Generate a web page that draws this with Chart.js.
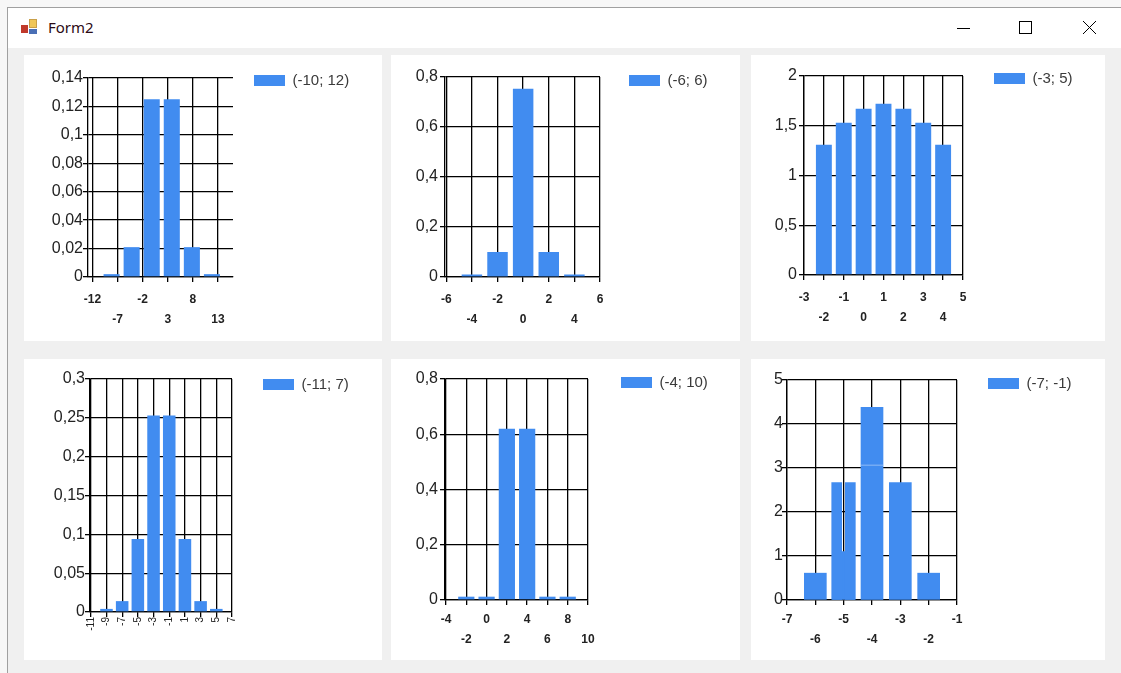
<!DOCTYPE html>
<html lang="es">
<head>
<meta charset="utf-8">
<title>Form2</title>
<script src="https://cdn.jsdelivr.net/npm/chart.js@4.4.1/dist/chart.umd.min.js"></script>
<style>
    html, body { margin: 0; padding: 0; }
    body { width: 1121px; height: 673px; overflow: hidden; position: relative; background: #f7f7f7; }
    #marco { position: absolute; left: 7px; top: 7px; width: 1114px; height: 666px;
             border-top: 1px solid #a0a0a0; border-left: 1px solid #a0a0a0; background: #f0f0f0; }
    #barra { position: absolute; left: 0; top: 0; width: 100%; height: 40px; background: #fff; }
    #titulo { position: absolute; left: 40px; top: 9px; font: 15px "Noto Sans", "DejaVu Sans", sans-serif; color: #2b0a14; }
    .ico { position: absolute; }
    #botones { position: absolute; left: 0; top: 0; }
    .panel { position: absolute; background: #fff; }
    .panel canvas { display: block; }
</style>
</head>
<body>
<div id="marco">
    <div id="barra">
        <div class="ico" style="left:13px; top:17px; width:7px; height:8px; background:#c0392b;"></div>
        <div class="ico" style="left:21px; top:11px; width:8px; height:9px; background:#f0c75a; border:1px solid #c9a04a; box-sizing:border-box;"></div>
        <div class="ico" style="left:21px; top:21px; width:8px; height:5px; background:#4a6fb5;"></div>
        <div id="titulo">Form2</div>
    </div>
</div>
<svg id="botones" width="1121" height="48">
    <line x1="957" y1="28.5" x2="970" y2="28.5" stroke="#000" stroke-width="1"/>
    <rect x="1019.5" y="21.5" width="12" height="12" fill="none" stroke="#000" stroke-width="1"/>
    <line x1="1083" y1="21" x2="1096" y2="34" stroke="#000" stroke-width="1"/>
    <line x1="1096" y1="21" x2="1083" y2="34" stroke="#000" stroke-width="1"/>
</svg>

<div class="panel" id="panel1" style="left:24px; top:55px;"><canvas width="358" height="286"></canvas></div>
<div class="panel" id="panel2" style="left:391px; top:55px;"><canvas width="349" height="286"></canvas></div>
<div class="panel" id="panel3" style="left:751px; top:55px;"><canvas width="354" height="286"></canvas></div>
<div class="panel" id="panel4" style="left:24px; top:359px;"><canvas width="358" height="301"></canvas></div>
<div class="panel" id="panel5" style="left:391px; top:359px;"><canvas width="349" height="301"></canvas></div>
<div class="panel" id="panel6" style="left:751px; top:359px;"><canvas width="354" height="301"></canvas></div>

<script>
// Histogramas por intervalo

// Gráfico 1: (-10; 12)
const etiqueta1 = '(-10; 12)';
const x1 = [-8.2, -4.2, -0.2, 3.8, 7.8, 11.8];
const y1 = [0.002, 0.021, 0.125, 0.125, 0.021, 0.002];
const ticksX1 = [-12, -7, -2, 3, 8, 13];
const rangoX1 = [-12.9, 16];
const ticksY1 = [0, 0.02, 0.04, 0.06, 0.08, 0.1, 0.12, 0.14];

// Gráfico 2: (-6; 6)
const etiqueta2 = '(-6; 6)';
const x2 = [-4, -2, 0, 2, 4];
const y2 = [0.01, 0.1, 0.753, 0.1, 0.01];
const ticksX2 = [-6, -4, -2, 0, 2, 4, 6];
const rangoX2 = [-6.1, 6];
const ticksY2 = [0, 0.2, 0.4, 0.6, 0.8];

// Gráfico 3: (-3; 5)
const etiqueta3 = '(-3; 5)';
const x3 = [-2, -1, 0, 1, 2, 3, 4];
const y3 = [1.31, 1.53, 1.67, 1.72, 1.67, 1.53, 1.31];
const ticksX3 = [-3, -2, -1, 0, 1, 2, 3, 4, 5];
const rangoX3 = [-3, 5];
const ticksY3 = [0, 0.5, 1, 1.5, 2];

// Gráfico 4: (-11; 7)
const etiqueta4 = '(-11; 7)';
const x4 = [-9, -7, -5, -3, -1, 1, 3, 5];
const y4 = [0.004, 0.014, 0.094, 0.253, 0.253, 0.094, 0.014, 0.004];
const ticksX4 = [-11, -9, -7, -5, -3, -1, 1, 3, 5, 7];
const rangoX4 = [-11.1, 7];
const ticksY4 = [0, 0.05, 0.1, 0.15, 0.2, 0.25, 0.3];

// Gráfico 5: (-4; 10)
const etiqueta5 = '(-4; 10)';
const x5 = [-2, 0, 2, 4, 6, 8];
const y5 = [0.012, 0.012, 0.62, 0.62, 0.012, 0.012];
const ticksX5 = [-4, -2, 0, 2, 4, 6, 8, 10];
const rangoX5 = [-4.1, 10];
const ticksY5 = [0, 0.2, 0.4, 0.6, 0.8];

// Gráfico 6: (-7; -1) - barras superpuestas
const etiqueta6 = '(-7; -1)';
const x6 = [-6, -5, -4, -3, -2];
const y6 = [0.61, 1.1, 4.38, 2.67, 0.61];
const x6b = [-5.245, -4.765];
const y6b = [2.67, 2.67];
const x6c = [-4];
const y6c = [3.07];
const ticksX6 = [-7, -6, -5, -4, -3, -2, -1];
const rangoX6 = [-7, -1];
const ticksY6 = [0, 1, 2, 3, 4, 5];

const AZUL = 'rgb(65, 140, 240)';
const FAMILIA = '"Liberation Sans", Arial, sans-serif';

Chart.defaults.font.family = FAMILIA;
Chart.defaults.animation = false;

function puntos(xs, ys) {
    return xs.map((x, i) => ({ x: x, y: ys[i] }));
}

// Etiquetas del eje X en dos filas alternadas
function escalonar(valor, indice) {
    const txt = String(valor);
    return indice % 2 === 0 ? [txt, ''] : ['', txt];
}

function conComa(valor) {
    return String(valor).replace('.', ',');
}

// Coloca la leyenda a la derecha del área del gráfico, arriba
const leyendaFija = {
    id: 'leyendaFija',
    afterLayout(chart, args, opts) {
        const lg = chart.legend;
        if (!lg) return;
        lg.left = opts.x;
        lg.top = opts.y;
        lg.width = 130;
        lg.height = 30;
        lg.right = lg.left + lg.width;
        lg.bottom = lg.top + lg.height;
    }
};

function crearGrafico(idPanel, cfg) {
    const lienzo = document.querySelector('#' + idPanel + ' canvas');
    const ancho = lienzo.width;
    const alto = lienzo.height;
    const m = cfg.area;
    const rejilla = { color: '#000', lineWidth: 1.3, offset: false, drawTicks: true, tickLength: 5, tickColor: '#000' };
    const borde = { display: true, color: '#000', width: 1.3 };

    return new Chart(lienzo, {
        type: 'bar',
        data: { datasets: cfg.series },
        options: {
            responsive: false,
            devicePixelRatio: 1,
            animation: false,
            events: [],
            layout: { padding: { left: 0, top: m.arr, right: ancho - m.der - 1, bottom: 0 } },
            datasets: { bar: { grouped: false, categoryPercentage: 1, barPercentage: 0.8 } },
            scales: {
                x: {
                    type: 'linear',
                    offset: false,
                    min: cfg.rangoX[0],
                    max: cfg.rangoX[1],
                    afterBuildTicks: eje => { eje.ticks = cfg.ticksX.map(v => ({ value: v })); },
                    afterFit: eje => { eje.height = alto - m.aba; },
                    grid: rejilla,
                    border: borde,
                    ticks: {
                        autoSkip: false,
                        minRotation: cfg.girarX ? 90 : 0,
                        maxRotation: cfg.girarX ? 90 : 0,
                        padding: cfg.sepX,
                        color: '#222',
                        font: cfg.fuenteX,
                        callback: cfg.girarX ? (v => String(v)) : ((v, i) => escalonar(v, i))
                    }
                },
                y: {
                    min: 0,
                    max: cfg.ticksY[cfg.ticksY.length - 1],
                    afterBuildTicks: eje => { eje.ticks = cfg.ticksY.map(v => ({ value: v })); },
                    afterFit: eje => { eje.width = m.izq; },
                    grid: rejilla,
                    border: borde,
                    ticks: {
                        padding: cfg.sepY,
                        color: '#222',
                        font: { size: 16 },
                        callback: v => conComa(v)
                    }
                }
            },
            plugins: {
                legend: {
                    position: 'right',
                    align: 'start',
                    maxWidth: 1,
                    labels: {
                        boxWidth: 31,
                        boxHeight: 11,
                        padding: 0,
                        color: '#3a3a3a',
                        font: { size: 15 },
                        filter: item => item.text !== ''
                    }
                },
                tooltip: { enabled: false },
                leyendaFija: { x: cfg.leyenda[0], y: cfg.leyenda[1] }
            }
        },
        plugins: [leyendaFija]
    });
}

const fuenteNormal = { size: 12, weight: 'bold', lineHeight: 1.7 };

crearGrafico('panel1', {
    series: [{ label: etiqueta1, data: puntos(x1, y1), backgroundColor: AZUL, borderWidth: 0 }],
    ticksX: ticksX1, rangoX: rangoX1, ticksY: ticksY1,
    area: { izq: 64, der: 209, arr: 23, aba: 222 },
    leyenda: [230, 18], sepX: 7, sepY: 0, fuenteX: fuenteNormal
});

crearGrafico('panel2', {
    series: [{ label: etiqueta2, data: puntos(x2, y2), backgroundColor: AZUL, borderWidth: 0 }],
    ticksX: ticksX2, rangoX: rangoX2, ticksY: ticksY2,
    area: { izq: 54, der: 209, arr: 22, aba: 222 },
    leyenda: [238, 18], sepX: 7, sepY: 2, fuenteX: fuenteNormal
});

crearGrafico('panel3', {
    series: [{ label: etiqueta3, data: puntos(x3, y3), backgroundColor: AZUL, borderWidth: 0 }],
    ticksX: ticksX3, rangoX: rangoX3, ticksY: ticksY3,
    area: { izq: 53, der: 212, arr: 21, aba: 220 },
    leyenda: [243, 16], sepX: 7, sepY: 2, fuenteX: fuenteNormal
});

crearGrafico('panel4', {
    series: [{ label: etiqueta4, data: puntos(x4, y4), backgroundColor: AZUL, borderWidth: 0 }],
    ticksX: ticksX4, rangoX: rangoX4, ticksY: ticksY4,
    area: { izq: 66, der: 208, arr: 20, aba: 253 },
    leyenda: [239, 18], sepX: 0, sepY: 0, girarX: true, fuenteX: { size: 10 }
});

crearGrafico('panel5', {
    series: [{ label: etiqueta5, data: puntos(x5, y5), backgroundColor: AZUL, borderWidth: 0 }],
    ticksX: ticksX5, rangoX: rangoX5, ticksY: ticksY5,
    area: { izq: 54, der: 197, arr: 20, aba: 241 },
    leyenda: [230, 16], sepX: 4, sepY: 2, fuenteX: fuenteNormal
});

crearGrafico('panel6', {
    series: [
        { label: etiqueta6, data: puntos(x6, y6), backgroundColor: AZUL, borderWidth: 0, barThickness: 22, order: 2 },
        { label: '', data: puntos(x6b, y6b), backgroundColor: AZUL, borderWidth: 0, barThickness: 10, order: 1 },
        { label: '', data: puntos(x6c, y6c), backgroundColor: AZUL, barThickness: 22, order: 0,
          borderWidth: { top: 1, left: 0, right: 0, bottom: 0 }, borderColor: 'rgba(255,255,255,0.55)' }
    ],
    ticksX: ticksX6, rangoX: rangoX6, ticksY: ticksY6,
    area: { izq: 36, der: 206, arr: 21, aba: 241 },
    leyenda: [237, 17], sepX: 4, sepY: -1, fuenteX: fuenteNormal
});
</script>
</body>
</html>
